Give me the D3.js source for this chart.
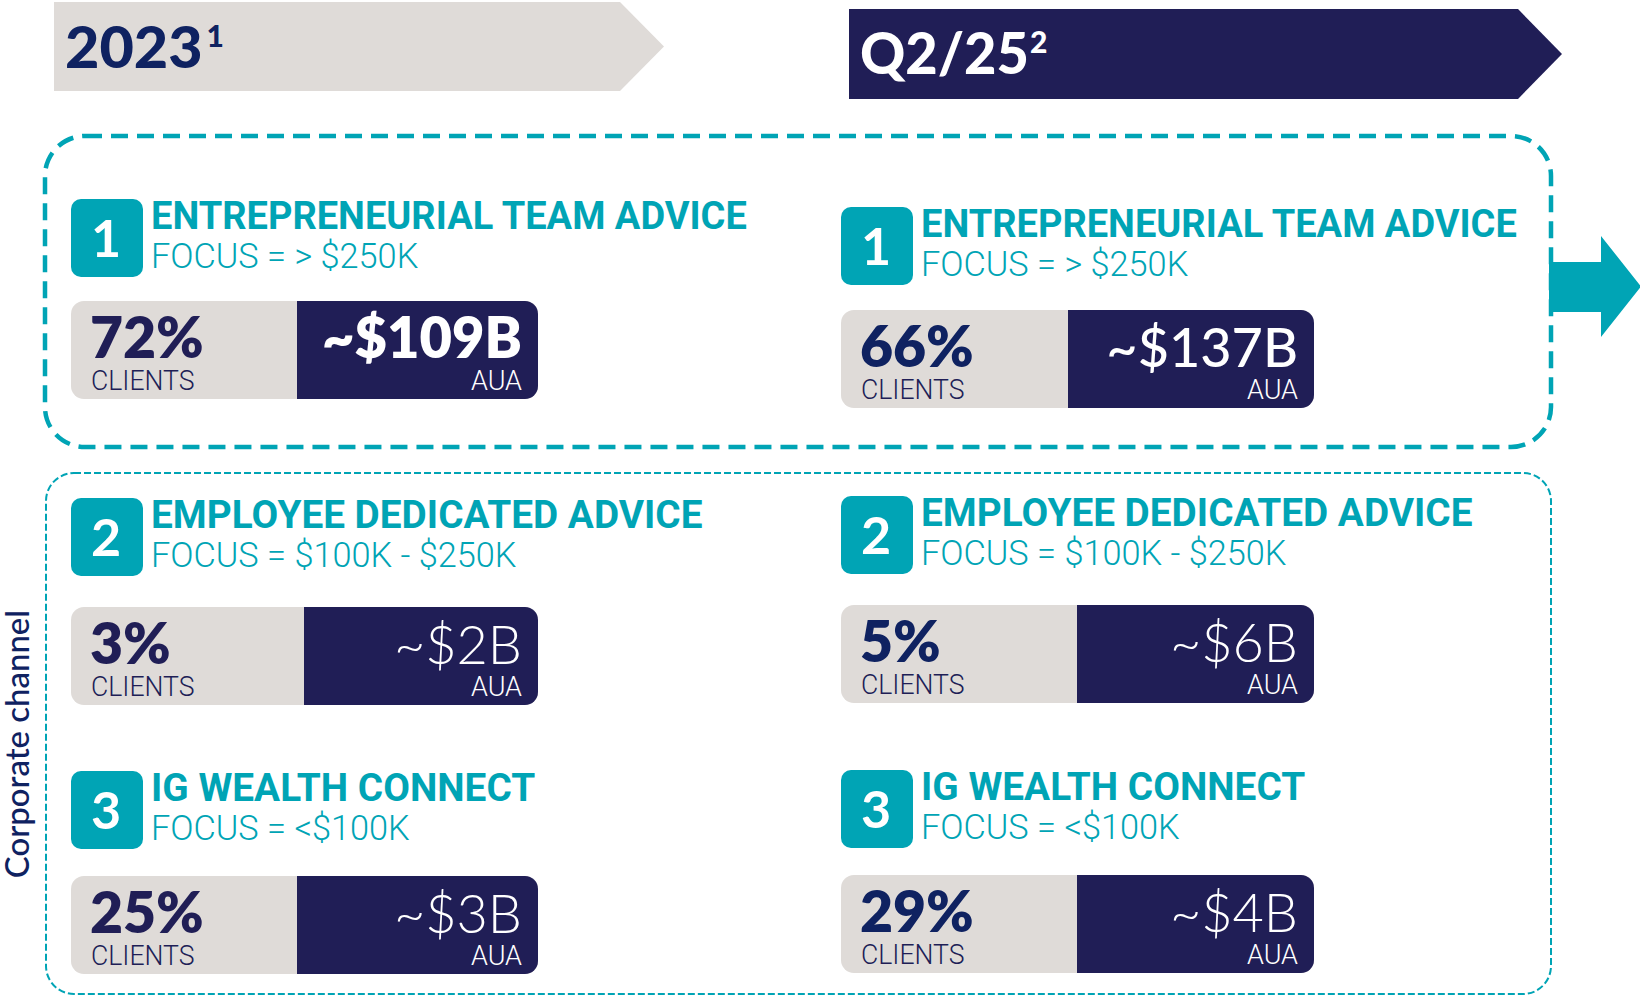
<!DOCTYPE html>
<html>
<head>
<meta charset="utf-8">
<script src="https://cdn.jsdelivr.net/npm/d3@7"></script>
<style>
  html, body { margin: 0; padding: 0; background: #fff; }
  svg { display: block; }
</style>
</head>
<body>
<div id="chart"></div>
<script>
// periods shown in the two header banners
var periods = ["2023", "Q2/25"];
var periodNotes = ["1", "2"];

// advice channels
var channelNumbers = ["1", "2", "3"];
var channelNames = ["ENTREPRENEURIAL TEAM ADVICE", "EMPLOYEE DEDICATED ADVICE", "IG WEALTH CONNECT"];
var channelFocus = ["FOCUS = > $250K", "FOCUS = $100K - $250K", "FOCUS = <$100K"];

// share of clients (%) and assets under administration ($B), per period
var clients2023 = [72, 3, 25];
var clientsQ225 = [66, 5, 29];
var aua2023 = [109, 2, 3];
var auaQ225 = [137, 6, 4];

var groupLabel = "Corporate channel";

var W = 1640, H = 995;
var teal = "#00a4b5", navy = "#201e56", grey = "#dfdbd8", ink = "#0f2261";

var svg = d3.select("#chart").append("svg")
    .attr("width", W)
    .attr("height", H);

// column / row layout
var colX = d3.scaleOrdinal().domain(periods).range([71, 841]);
var barW = d3.scaleOrdinal().domain(periods).range([467, 473]);
var badgeTop = { "2023": [199, 498, 771], "Q2/25": [207, 496, 770] };
var barTop = { "2023": [301, 607, 876], "Q2/25": [310, 605, 875] };
var splitW = { "2023": [226, 233, 226], "Q2/25": [227, 236, 236] };
var auaWeight = { "2023": [800, 300, 300], "Q2/25": [500, 300, 300] };
var pctInk = { "2023": navy, "Q2/25": ink };
var titleK = [1.0, 1.02, 1.02];

var pct = function(v) { return v + "%"; };
var bil = function(v) { return "~$" + v + "B"; };

// squeeze / stretch text to mimic the condensed face
function condense(sel, k) {
  sel.each(function(d, i) {
    var w = this.getComputedTextLength();
    var f = typeof k === "function" ? k(d, i) : k;
    d3.select(this).attr("textLength", w * f).attr("lengthAdjust", "spacingAndGlyphs");
  });
}

// header banners
var banners = [
  { period: periods[0], note: periodNotes[0], x: 54, y: 2, w: 566, h: 89, tip: 44, fill: grey, color: ink, base: 66, k: 1.04, gap: 4 },
  { period: periods[1], note: periodNotes[1], x: 849, y: 9, w: 669, h: 90, tip: 44, fill: navy, color: "#fff", base: 65, k: 0.98, gap: 1 }
];
var bn = svg.selectAll("g.banner").data(banners).enter().append("g").attr("class", "banner");
bn.append("path")
    .attr("d", function(d) {
      var p = d3.path();
      p.moveTo(d.x, d.y);
      p.lineTo(d.x + d.w, d.y);
      p.lineTo(d.x + d.w + d.tip, d.y + d.h / 2);
      p.lineTo(d.x + d.w, d.y + d.h);
      p.lineTo(d.x, d.y + d.h);
      p.closePath();
      return p.toString();
    })
    .attr("fill", function(d) { return d.fill; });
var bt = bn.append("text")
    .attr("x", function(d) { return d.x + 11; })
    .attr("y", function(d) { return d.y + d.base; })
    .attr("fill", function(d) { return d.color; })
    .style("font-family", "Lato, sans-serif")
    .style("font-weight", 900);
bt.append("tspan").attr("font-size", 57).text(function(d) { return d.period; })
    .call(condense, function(d) { return d.k; });
bt.append("tspan").attr("font-size", 30)
    .attr("dx", function(d) { return d.gap; })
    .attr("dy", -21)
    .text(function(d) { return d.note; });

// dashed group frames
svg.append("rect")
    .attr("x", 45).attr("y", 136).attr("width", 1506).attr("height", 311)
    .attr("rx", 40)
    .attr("fill", "none").attr("stroke", teal)
    .attr("stroke-width", 4.5).attr("stroke-dasharray", "17 9");
svg.append("rect")
    .attr("x", 46).attr("y", 473).attr("width", 1505).attr("height", 521)
    .attr("rx", 28)
    .attr("fill", "none").attr("stroke", teal)
    .attr("stroke-width", 2).attr("stroke-dasharray", "7 3");

// arrow leaving the first frame
svg.append("path")
    .attr("d", "M1549,262H1601V236L1641,286.5L1601,337V312H1549Z")
    .attr("fill", teal);

svg.append("text")
    .attr("transform", "translate(29,744) rotate(-90)")
    .attr("text-anchor", "middle")
    .attr("fill", ink)
    .style("font-family", "Lato, sans-serif")
    .style("font-weight", 500)
    .attr("font-size", 32)
    .text(groupLabel)
    .call(condense, 1.03);

// cards
var cards = [];
periods.forEach(function(p, ci) {
  var cl = ci === 0 ? clients2023 : clientsQ225;
  var au = ci === 0 ? aua2023 : auaQ225;
  channelNumbers.forEach(function(n, i) {
    cards.push({ period: p, i: i, num: n, name: channelNames[i], focus: channelFocus[i], clients: cl[i], aua: au[i] });
  });
});

var card = svg.selectAll("g.card").data(cards).enter().append("g").attr("class", "card");

card.append("rect")
    .attr("x", function(d) { return colX(d.period); })
    .attr("y", function(d) { return badgeTop[d.period][d.i]; })
    .attr("width", 72).attr("height", 78).attr("rx", 10)
    .attr("fill", teal);
card.append("text")
    .attr("x", function(d) { return colX(d.period) + 35; })
    .attr("y", function(d) { return badgeTop[d.period][d.i] + 58; })
    .attr("text-anchor", "middle")
    .attr("fill", "#fff")
    .style("font-family", "Lato, sans-serif").style("font-weight", 700)
    .attr("font-size", 52)
    .text(function(d) { return d.num; });

card.append("text")
    .attr("class", "title")
    .attr("x", function(d) { return colX(d.period) + 80; })
    .attr("y", function(d) { return badgeTop[d.period][d.i] + 30; })
    .attr("fill", teal)
    .style("font-family", "Roboto, sans-serif").style("font-weight", 700)
    .attr("font-size", 38)
    .text(function(d) { return d.name; })
    .call(condense, function(d) { return titleK[d.i]; });

card.append("text")
    .attr("class", "focus")
    .attr("x", function(d) { return colX(d.period) + 80; })
    .attr("y", function(d) { return badgeTop[d.period][d.i] + 69; })
    .attr("fill", teal)
    .style("font-family", "Roboto, sans-serif").style("font-weight", 300)
    .attr("font-size", 35)
    .text(function(d) { return d.focus; })
    .call(condense, 0.98);

// split stat bar: grey client share + navy AUA
card.append("rect")
    .attr("x", function(d) { return colX(d.period); })
    .attr("y", function(d) { return barTop[d.period][d.i]; })
    .attr("width", function(d) { return barW(d.period); })
    .attr("height", 98).attr("rx", 13)
    .attr("fill", grey);
card.append("path")
    .attr("d", function(d) {
      var x = colX(d.period) + splitW[d.period][d.i], y = barTop[d.period][d.i];
      var w = barW(d.period) - splitW[d.period][d.i], h = 98, r = 13;
      return "M" + x + "," + y + "H" + (x + w - r) + "A" + r + "," + r + " 0 0 1 " + (x + w) + "," + (y + r) +
        "V" + (y + h - r) + "A" + r + "," + r + " 0 0 1 " + (x + w - r) + "," + (y + h) + "H" + x + "Z";
    })
    .attr("fill", navy);

card.append("text")
    .attr("x", function(d) { return colX(d.period) + 19; })
    .attr("y", function(d) { return barTop[d.period][d.i] + 57; })
    .attr("fill", function(d) { return pctInk[d.period]; })
    .style("font-family", "Lato, sans-serif").style("font-weight", 800)
    .attr("font-size", 57)
    .text(function(d) { return pct(d.clients); });
card.append("text")
    .attr("x", function(d) { return colX(d.period) + 20; })
    .attr("y", function(d) { return barTop[d.period][d.i] + 89; })
    .attr("fill", navy)
    .style("font-family", "Roboto, sans-serif").style("font-weight", 300)
    .attr("font-size", 28)
    .text("CLIENTS")
    .call(condense, 0.95);

card.append("text")
    .attr("x", function(d) { return colX(d.period) + barW(d.period) - 16; })
    .attr("y", function(d) { return barTop[d.period][d.i] + 57; })
    .attr("text-anchor", "end")
    .attr("fill", "#fff")
    .style("font-family", "Lato, sans-serif")
    .style("font-weight", function(d) { return auaWeight[d.period][d.i]; })
    .attr("font-size", function(d) { return auaWeight[d.period][d.i] > 700 ? 56 : 54; })
    .text(function(d) { return bil(d.aua); });
card.append("text")
    .attr("x", function(d) { return colX(d.period) + barW(d.period) - 16; })
    .attr("y", function(d) { return barTop[d.period][d.i] + 89; })
    .attr("text-anchor", "end")
    .attr("fill", "#fff")
    .style("font-family", "Roboto, sans-serif").style("font-weight", 300)
    .attr("font-size", 27)
    .text("AUA");
</script>
</body>
</html>
